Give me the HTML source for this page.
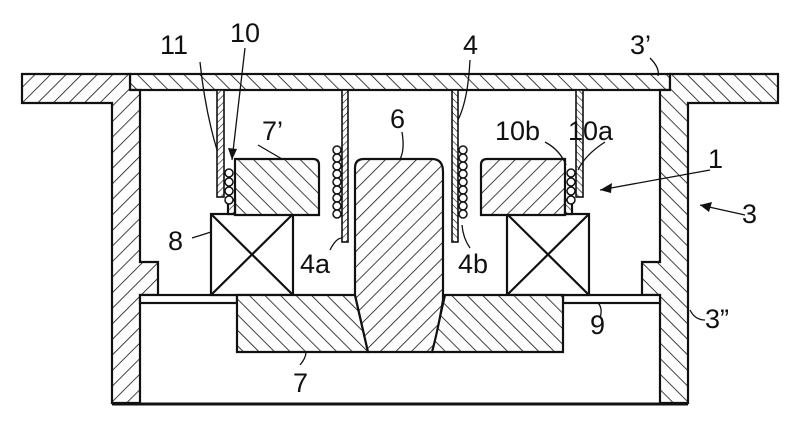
<!DOCTYPE html>
<html><head><meta charset="utf-8"><style>
html,body{margin:0;padding:0;background:#fff}
svg{display:block}
text{font-family:"Liberation Sans",sans-serif;font-size:27px;fill:#111}
</style></head><body>
<svg width="800" height="448" viewBox="0 0 800 448" xmlns="http://www.w3.org/2000/svg">
<defs>
<pattern id="hf" width="11" height="11" patternUnits="userSpaceOnUse" patternTransform="rotate(45)">
<rect width="11" height="11" fill="#fff"/><line x1="0" y1="0" x2="0" y2="11" stroke="#111" stroke-width="1.6"/></pattern>
<pattern id="hb" width="11" height="11" patternUnits="userSpaceOnUse" patternTransform="rotate(-45)">
<rect width="11" height="11" fill="#fff"/><line x1="0" y1="0" x2="0" y2="11" stroke="#111" stroke-width="1.6"/></pattern>
<pattern id="hs" width="5" height="5" patternUnits="userSpaceOnUse" patternTransform="rotate(45)">
<rect width="5" height="5" fill="#fff"/><line x1="0" y1="0" x2="0" y2="5" stroke="#111" stroke-width="1.2"/></pattern>
<g id="half" stroke="#111" stroke-width="2.2">
<!-- outer wall left -->
<path d="M22 74 H130 V90 H140 V262 H158 V295 H140 V403 H112 V103 H22 Z" fill="url(#hf)"/>
<!-- plate 9 -->
<rect x="140" y="295" width="97" height="8" fill="#fff"/>
<!-- coil 8 -->
<rect x="211" y="214" width="82" height="81" fill="#fff"/>
<line x1="211" y1="214" x2="293" y2="295"/><line x1="293" y1="214" x2="211" y2="295"/>
<!-- magnet 7' -->
<path d="M235 159 H313 Q319 159 319 165 V215 H235 Z" fill="url(#hb)"/>
<rect x="228" y="200" width="7" height="14" fill="url(#hs)"/>
<!-- plate 11 -->
<rect x="217" y="90" width="7" height="107" fill="url(#hs)" stroke-width="1.6"/>
<!-- balls -->
<g fill="#fff" stroke-width="1.5"><circle cx="229" cy="173" r="4"/><circle cx="229" cy="182" r="4"/><circle cx="229" cy="191" r="4"/><circle cx="229" cy="200" r="4"/></g>
<!-- plate 4a -->
<rect x="342" y="90" width="6" height="152" fill="url(#hs)" stroke-width="1.6"/>
<g fill="#fff" stroke-width="1.5"><circle cx="337" cy="150" r="4"/><circle cx="337" cy="158" r="4"/><circle cx="337" cy="166" r="4"/><circle cx="337" cy="174" r="4"/><circle cx="337" cy="182" r="4"/><circle cx="337" cy="190" r="4"/><circle cx="337" cy="198" r="4"/><circle cx="337" cy="206" r="4"/><circle cx="337" cy="214" r="4"/></g>
</g>
</defs>
<!-- top plate center -->
<rect x="130" y="74" width="540" height="16" fill="url(#hb)" stroke="#111" stroke-width="2.2"/>
<use href="#half"/>
<use href="#half" transform="translate(800,0) scale(-1,1)"/>
<!-- bottom line -->
<line x1="112" y1="404" x2="688" y2="404" stroke="#111" stroke-width="3"/>
<!-- block 7 -->
<path d="M237 295 H355 L368 352 H237 Z" fill="url(#hb)" stroke="#111" stroke-width="2.2"/>
<path d="M563 295 H445 L432 352 H563 Z" fill="url(#hb)" stroke="#111" stroke-width="2.2"/>
<!-- pole 6 -->
<path d="M355 168 Q355 159 364 159 H432 Q443 159 443 172 V300 Q438 330 432 352 H368 L355 295 Z" fill="url(#hf)" stroke="#111" stroke-width="2.2"/>
<!-- leaders -->
<g fill="none" stroke="#111" stroke-width="1.3">
<path d="M200 62 Q205 110 217 150"/>
<path d="M245 48 L232 160"/>
<path d="M258 145 Q270 152 282 159"/>
<path d="M402 132 Q405 150 400 159"/>
<path d="M470 60 Q468 100 458 120"/>
<path d="M650 58 Q660 68 658 76"/>
<path d="M545 142 Q560 150 566 165"/>
<path d="M605 142 Q585 155 578 170"/>
<path d="M710 170 L600 190"/>
<path d="M745 215 L700 205"/>
<path d="M192 238 Q205 234 211 232"/>
<path d="M330 250 Q336 238 342 238"/>
<path d="M470 248 Q463 238 462 225"/>
<path d="M600 318 Q603 308 598 303"/>
<path d="M705 320 Q695 320 690 310"/>
<path d="M300 365 Q306 358 306 352"/>
</g>
<path d="M600 190 L612 183 L611 193 Z" fill="#111"/>
<path d="M700 205 L712 202 L709 212 Z" fill="#111"/>
<path d="M232 160 L228 148 L237 149 Z" fill="#111"/>
<text x="160" y="54">11</text>
<text x="230" y="42">10</text>
<text x="262" y="140">7’</text>
<text x="390" y="128">6</text>
<text x="463" y="54">4</text>
<text x="630" y="54">3’</text>
<text x="495" y="140">10b</text>
<text x="568" y="140">10a</text>
<text x="708" y="168">1</text>
<text x="742" y="223">3</text>
<text x="168" y="250">8</text>
<text x="300" y="273">4a</text>
<text x="458" y="273">4b</text>
<text x="590" y="334">9</text>
<text x="705" y="328">3”</text>
<text x="293" y="392">7</text>
</svg>
</body></html>
